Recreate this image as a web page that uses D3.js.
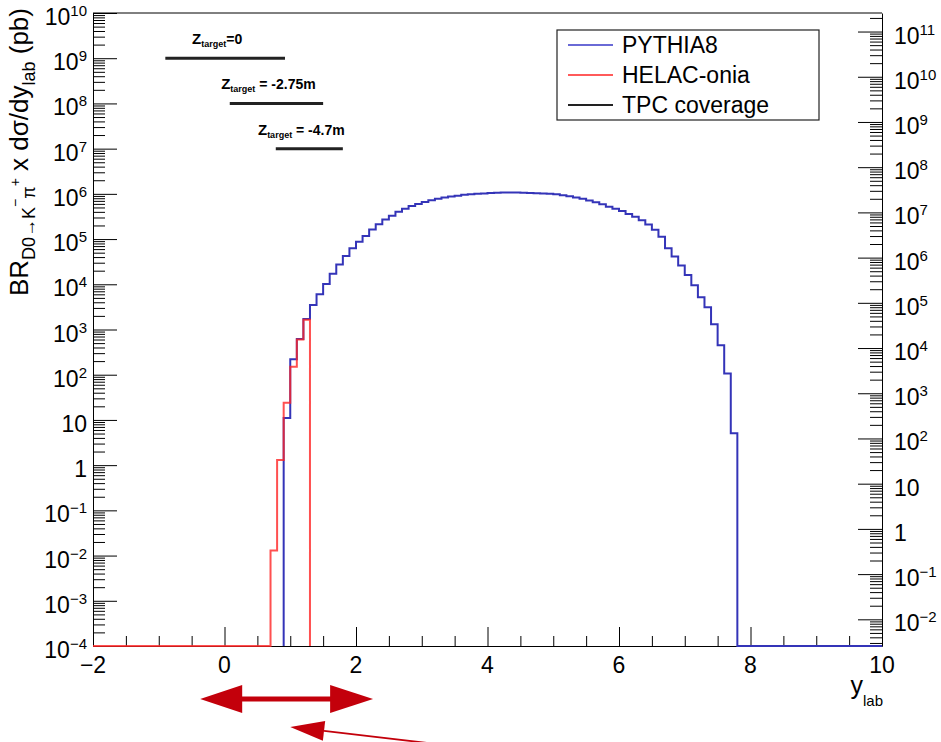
<html>
<head>
<meta charset="utf-8" />
<script src="https://d3js.org/d3.v7.min.js"></script>
<style>
	body { margin: 0; background: #fff; }
	text { font-family: "Liberation Sans", Arial, Helvetica, sans-serif; fill: #000; }
</style>
</head>
<body>
<svg id="chart" width="941" height="742"></svg>
<script>

// values, pb per bin of 0.1 in y_lab
var binWidth = 0.1;
var pythiaStart = 0.9;
var pythia = [11, 220, 620, 1700, 3500, 6000, 1.02e4, 1.7e4, 2.75e4, 4.2e4,
	6.3e4, 8.7e4, 1.17e5, 1.62e5, 2.14e5, 2.7e5, 3.3e5, 4.0e5, 4.7e5, 5.4e5,
	6.0e5, 6.6e5, 7.2e5, 7.8e5, 8.3e5, 8.7e5, 9.1e5, 9.5e5, 9.8e5, 1.0e6,
	1.02e6, 1.05e6, 1.06e6, 1.07e6, 1.07e6, 1.07e6, 1.06e6, 1.05e6, 1.035e6, 1.02e6,
	1.0e6, 9.8e5, 9.3e5, 8.9e5, 8.3e5, 7.8e5, 7.1e5, 6.5e5, 5.9e5, 5.2e5,
	4.7e5, 4.2e5, 3.6e5, 3.1e5, 2.6e5, 2.1e5, 1.6e5, 1.12e5, 6.3e4, 4.1e4,
	2.6e4, 1.6e4, 9.5e3, 5.2e3, 3.1e3, 1.3e3, 450, 107, 5.1];
var helacStart = 0.7;
var helac = [1.3e-2, 1.3, 24, 150, 600, 1650];

// TPC coverage for the three target positions
var tpcRanges = [[-0.9, 0.92], [0.08, 1.5], [0.78, 1.8]];
var tpcLevels = [1e9, 1e8, 1e7];
var tpcLabels = ["=0", " = -2.75m", " = -4.7m"];

var legendNames = ["PYTHIA8", "HELAC-onia", "TPC coverage"];
var legendColors = ["#6a6ad6", "#ff5a5a", "#222"];

var xRange = [-2, 10];
var yRange = [1e-4, 1e10];
var br = 0.0389;   // right axis = left axis / BR
var xMajors = [-2, 0, 2, 4, 6, 8, 10];
var leftPowers = d3.range(-4, 11);
var rightPowers = d3.range(-2, 12);

var W = 941, H = 742;
var m = {left: 93, right: 882, top: 13, bottom: 646};

var svg = d3.select("#chart");
svg.append("rect").attr("width", W).attr("height", H).attr("fill", "#fff");

var x = d3.scaleLinear().domain(xRange).range([m.left, m.right]);
var y = d3.scaleLog().domain(yRange).range([m.bottom, m.top]);
var yR = d3.scaleLog().domain([yRange[0] / br, yRange[1] / br]).range([m.bottom, m.top]);

function minorsOf(scale) {
	var d = scale.domain(), out = [];
	var k0 = Math.floor(Math.log10(d[0])), k1 = Math.ceil(Math.log10(d[1]));
	for (var k = k0; k <= k1; k++) {
		for (var j = 2; j <= 9; j++) {
			var v = j * Math.pow(10, k);
			if (v > d[0] && v < d[1]) out.push(v);
		}
	}
	return out;
}

// frame
svg.append("line").attr("x1", m.left).attr("x2", m.right).attr("y1", m.top).attr("y2", m.top)
	.attr("stroke", "#000");

// left axis
var gl = svg.append("g").attr("transform", "translate(" + m.left + ",0)");
gl.call(d3.axisLeft(y).tickValues(leftPowers.map(function(k){ return Math.pow(10, k); }))
	.tickSize(-24).tickSizeOuter(0).tickFormat(""));
gl.append("g").call(d3.axisLeft(y).tickValues(minorsOf(y)).tickSize(-12).tickSizeOuter(0).tickFormat(""))
	.select(".domain").remove();

// right axis
var gr = svg.append("g").attr("transform", "translate(" + m.right + ",0)");
gr.call(d3.axisRight(yR).tickValues(rightPowers.map(function(k){ return Math.pow(10, k); }))
	.tickSize(-24).tickSizeOuter(0).tickFormat(""));
gr.append("g").call(d3.axisRight(yR).tickValues(minorsOf(yR)).tickSize(-12).tickSizeOuter(0).tickFormat(""))
	.select(".domain").remove();

// bottom axis
var xMinors = d3.range(xRange[0], xRange[1] + 0.01, 0.5).filter(function(v){ return xMajors.indexOf(v) < 0; });
var gb = svg.append("g").attr("transform", "translate(0," + m.bottom + ")");
gb.call(d3.axisBottom(x).tickValues(xMajors).tickSize(-19).tickSizeOuter(0).tickFormat(""));
gb.append("g").call(d3.axisBottom(x).tickValues(xMinors).tickSize(-10).tickSizeOuter(0).tickFormat(""))
	.select(".domain").remove();

svg.selectAll(".tick line, .domain").attr("stroke", "#000");

function powLabel(k, px, py, anchor) {
	var t = svg.append("text").attr("x", px).attr("y", py).attr("text-anchor", anchor)
		.style("font-size", "23px");
	if (k === 0) t.text("1");
	else if (k === 1) t.text("10");
	else {
		t.append("tspan").text("10");
		t.append("tspan").attr("dy", -9).style("font-size", "15px")
			.text(k < 0 ? "\u2212" + (-k) : "" + k);
	}
}

leftPowers.forEach(function(k){ powLabel(k, m.left - 6, y(Math.pow(10, k)) + 12, "end"); });
rightPowers.forEach(function(k){ powLabel(k, m.right + 12, yR(Math.pow(10, k)) + 12, "start"); });

xMajors.forEach(function(v){
	svg.append("text").attr("x", x(v)).attr("y", m.bottom + 27).attr("text-anchor", "middle")
		.style("font-size", "23px").text(v < 0 ? "\u2212" + (-v) : v);
});

// axis titles
var yt = svg.append("text").attr("transform", "translate(28,8) rotate(-90)")
	.attr("text-anchor", "end").style("font-size", "26px");
yt.append("tspan").text("BR");
yt.append("tspan").attr("dy", 7).style("font-size", "18px").text("D0\u2192K");
yt.append("tspan").attr("dy", -15).style("font-size", "14px").text("\u2212");
yt.append("tspan").attr("dy", 15).style("font-size", "18px").text("\u03c0");
yt.append("tspan").attr("dy", -15).style("font-size", "14px").text("+");
yt.append("tspan").attr("dy", 8).text(" x d\u03c3/dy");
yt.append("tspan").attr("dy", 7).style("font-size", "18px").text("lab");
yt.append("tspan").attr("dy", -7).text(" (pb)");

var xt = svg.append("text").attr("x", m.right + 1).attr("y", m.bottom + 48)
	.attr("text-anchor", "end").style("font-size", "25px");
xt.append("tspan").text("y");
xt.append("tspan").attr("dy", 12).style("font-size", "15px").text("lab");

// histograms
function stepPath(start, vals, from, to) {
	var pts = [[x(from), m.bottom], [x(start), m.bottom]];
	vals.forEach(function(v, i) {
		var lo = start + i * binWidth, hi = lo + binWidth;
		pts.push([x(lo), y(v)]);
		pts.push([x(hi), y(v)]);
	});
	var end = start + vals.length * binWidth;
	pts.push([x(end), m.bottom]);
	pts.push([x(to), m.bottom]);
	return d3.line()(pts);
}

svg.append("path").attr("d", stepPath(pythiaStart, pythia, pythiaStart, xRange[1]))
	.attr("fill", "none").attr("stroke", "#3434b8").attr("stroke-width", 2);
svg.append("path").attr("d", stepPath(helacStart, helac, xRange[0], helacStart + helac.length * binWidth))
	.attr("fill", "none").attr("stroke", "#ff2424").attr("stroke-opacity", 0.8).attr("stroke-width", 2);

// TPC coverage bars
tpcRanges.forEach(function(r, i) {
	var ly = y(tpcLevels[i]);
	svg.append("line").attr("x1", x(r[0])).attr("x2", x(r[1])).attr("y1", ly).attr("y2", ly)
		.attr("stroke", "#222").attr("stroke-width", 3);
	var t = svg.append("text").attr("x", (x(r[0]) + x(r[1])) / 2 - 8).attr("y", ly - 14)
		.attr("text-anchor", "middle").style("font-weight", "bold").style("font-size", "14px");
	t.append("tspan").style("font-size", "15px").text("Z");
	t.append("tspan").attr("dy", 3).style("font-size", "9px").text("target");
	t.append("tspan").attr("dy", -3).text(tpcLabels[i]);
});

// legend
var lg = svg.append("g").attr("transform", "translate(557,30)");
lg.append("rect").attr("width", 262).attr("height", 90).attr("fill", "#fff")
	.attr("stroke", "#222").attr("stroke-width", 1.2);
legendNames.forEach(function(n, i) {
	var ly = 15 + i * 30;
	lg.append("line").attr("x1", 11).attr("x2", 56).attr("y1", ly).attr("y2", ly)
		.attr("stroke", legendColors[i]).attr("stroke-width", 2);
	lg.append("text").attr("x", 65).attr("y", ly + 8).style("font-size", "23px").text(n);
});

// red arrows under the axis
var red = "#c3000b";
var ax0 = x(-0.37), ax1 = x(2.26), ay = m.bottom + 53;
svg.append("line").attr("x1", ax0 + 30).attr("x2", ax1 - 30).attr("y1", ay).attr("y2", ay)
	.attr("stroke", red).attr("stroke-width", 5);
svg.append("path").attr("fill", red)
	.attr("d", "M" + ax0 + "," + ay + "L" + (ax0 + 42) + "," + (ay - 14) + "L" + (ax0 + 42) + "," + (ay + 14) + "Z");
svg.append("path").attr("fill", red)
	.attr("d", "M" + ax1 + "," + ay + "L" + (ax1 - 43) + "," + (ay - 14) + "L" + (ax1 - 43) + "," + (ay + 14) + "Z");

var tip = [x(1.0), m.bottom + 81], tail = [x(3.35), m.bottom + 99];
var dx = tail[0] - tip[0], dy = tail[1] - tip[1], len = Math.sqrt(dx * dx + dy * dy);
var ux = dx / len, uy = dy / len;
var base = [tip[0] + ux * 34, tip[1] + uy * 34];
svg.append("line").attr("x1", base[0]).attr("y1", base[1]).attr("x2", tail[0]).attr("y2", tail[1])
	.attr("stroke", red).attr("stroke-width", 1.8);
svg.append("path").attr("fill", red)
	.attr("d", "M" + tip[0] + "," + tip[1] +
		"L" + (base[0] - uy * 10) + "," + (base[1] + ux * 10) +
		"L" + (base[0] + uy * 10) + "," + (base[1] - ux * 10) + "Z");

</script>
</body>
</html>
